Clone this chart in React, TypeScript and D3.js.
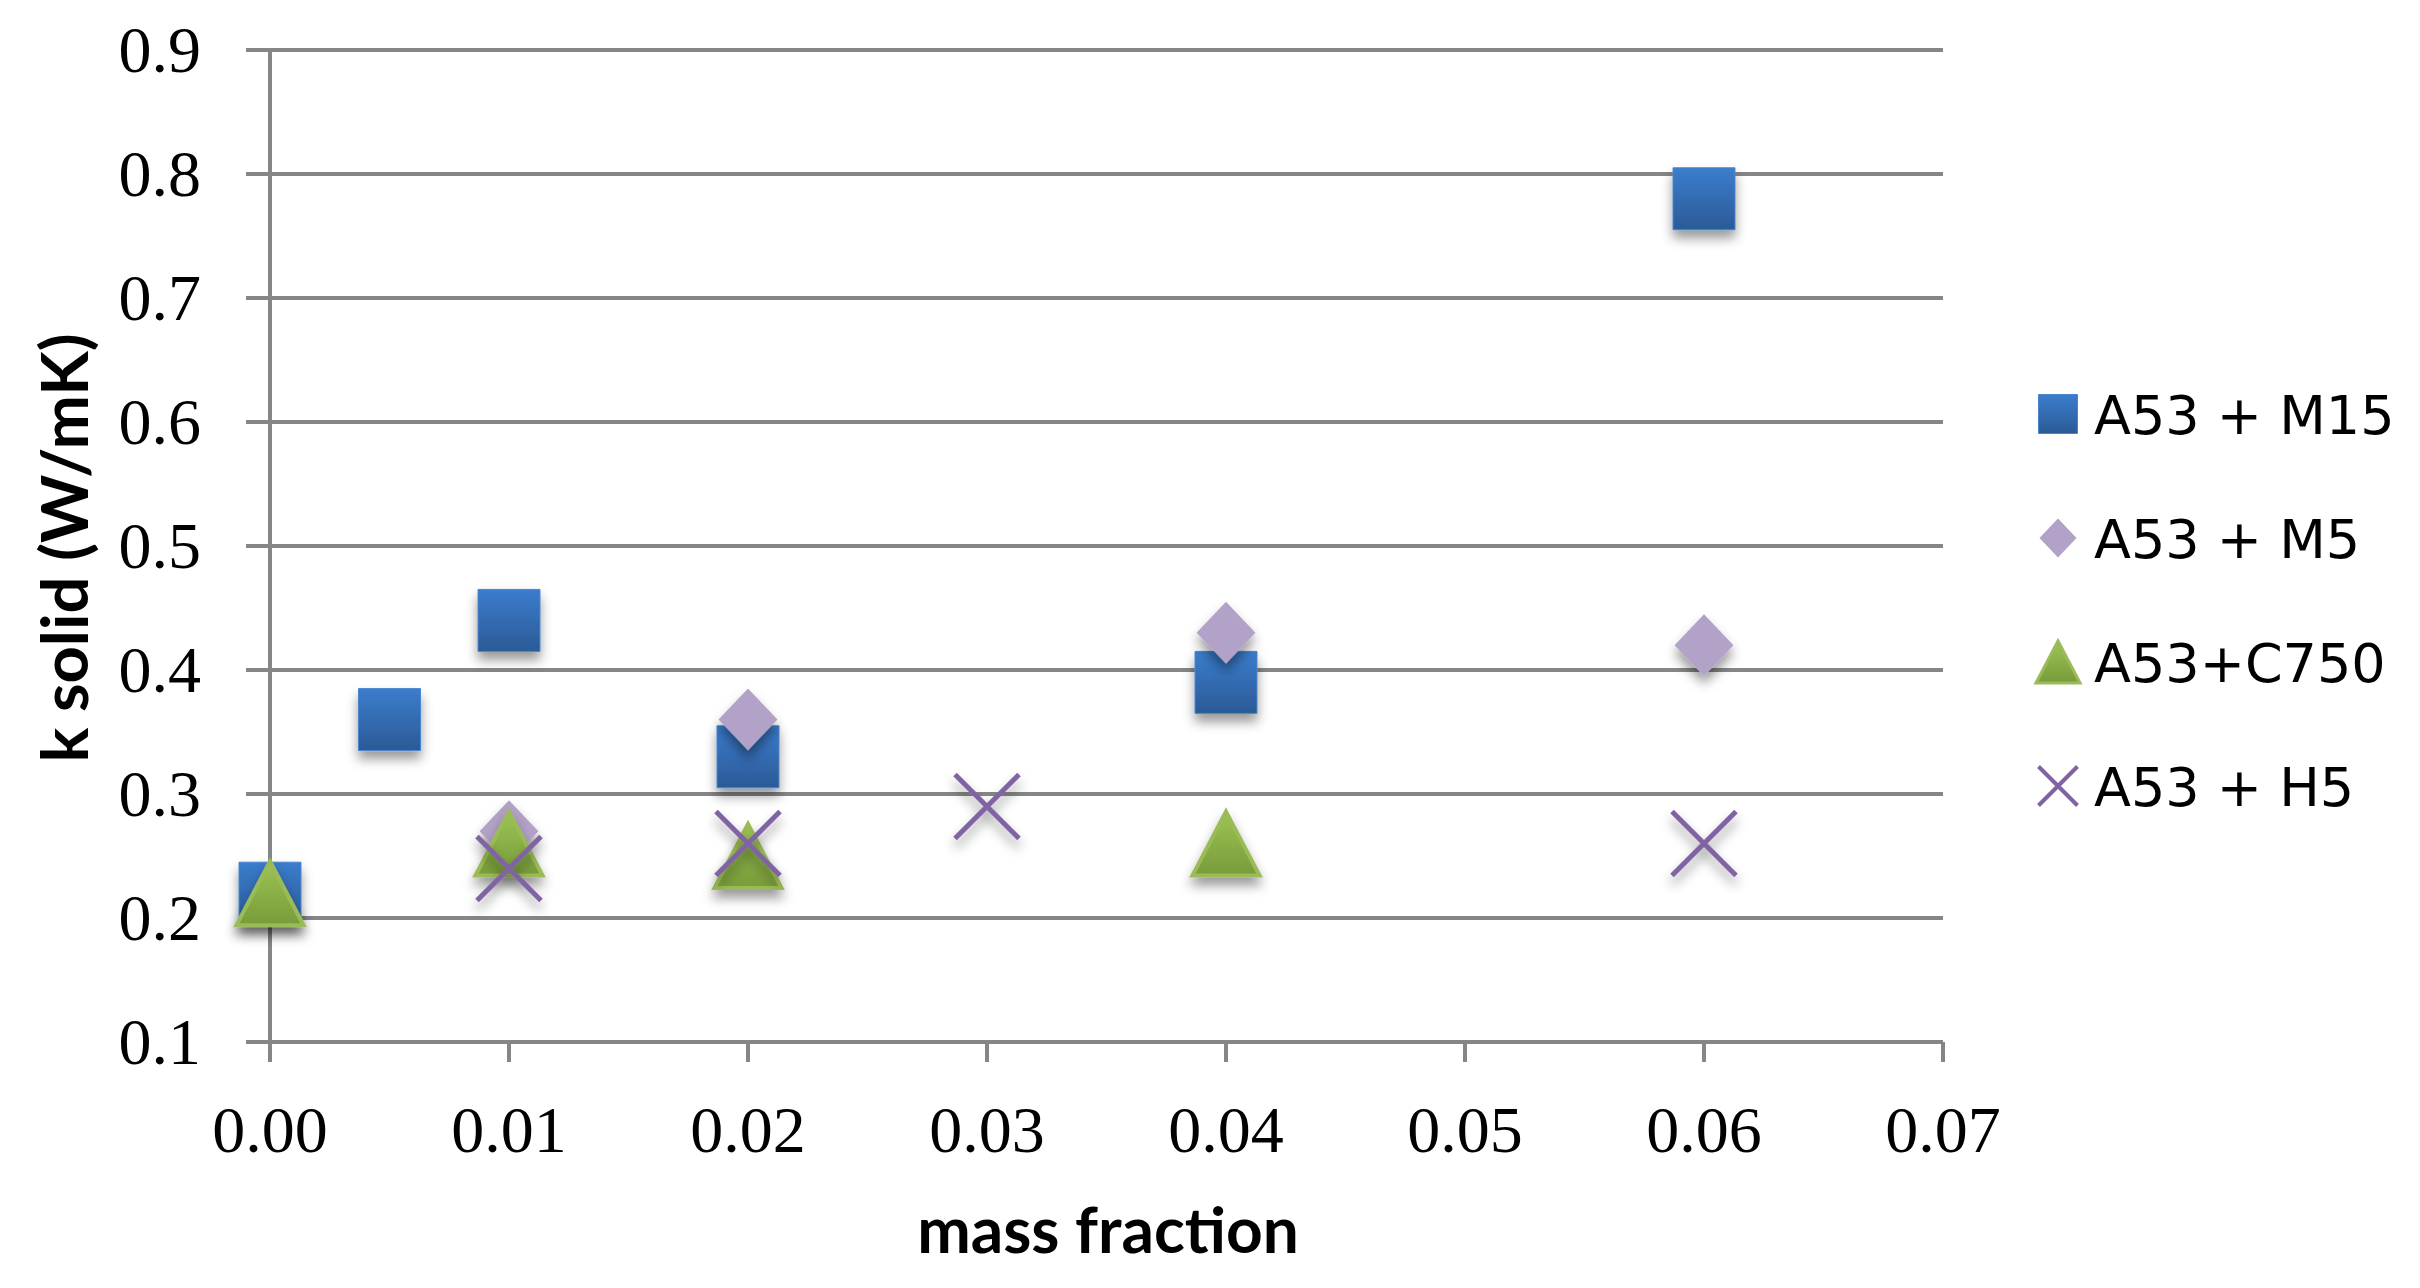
import { useEffect, useRef } from "react";
import * as d3 from "d3";

// x tick values (mass fraction) and y tick values (k solid)
const xTicks = [0, 0.01, 0.02, 0.03, 0.04, 0.05, 0.06, 0.07];
const yTicks = [0.1, 0.2, 0.3, 0.4, 0.5, 0.6, 0.7, 0.8, 0.9];

// series
const m15X = [0, 0.005, 0.01, 0.02, 0.04, 0.06];
const m15Y = [0.22, 0.36, 0.44, 0.33, 0.39, 0.78];
const m5X = [0.01, 0.02, 0.04, 0.06];
const m5Y = [0.27, 0.36, 0.43, 0.42];
const c750X = [0, 0.01, 0.02, 0.04];
const c750Y = [0.22, 0.26, 0.25, 0.26];
const h5X = [0.01, 0.02, 0.03, 0.06];
const h5Y = [0.24, 0.26, 0.29, 0.26];

const seriesNames = ["A53 + M15", "A53 + M5", "A53+C750", "A53 + H5"];
const seriesKinds = ["square", "diamond", "triangle", "cross"];

const GRID = "#868686";

function markerPath(kind: string, s: number) {
    const h = s / 2;
    const p = d3.path();
    if (kind === "square") {
        p.rect(-h, -h, s, s);
    } else if (kind === "diamond") {
        const w = h * 0.95;
        p.moveTo(0, -h);
        p.lineTo(w, 0);
        p.lineTo(0, h);
        p.lineTo(-w, 0);
        p.closePath();
    } else if (kind === "triangle") {
        const w = h * 1.05;
        p.moveTo(0, -h);
        p.lineTo(w, h);
        p.lineTo(-w, h);
        p.closePath();
    } else {
        p.moveTo(-h, -h);
        p.lineTo(h, h);
        p.moveTo(h, -h);
        p.lineTo(-h, h);
    }
    return p.toString();
}

function styleMarker(sel: any, kind: string) {
    if (kind === "square") {
        sel.attr("fill", "url(#gradBlue)").attr("stroke", "#4a86d0").attr("stroke-width", 1);
    } else if (kind === "diamond") {
        sel.attr("fill", "#b3a2c7");
    } else if (kind === "triangle") {
        sel.attr("fill", "url(#gradGreen)")
            .attr("stroke", "#9bbb59")
            .attr("stroke-width", 4)
            .attr("stroke-linejoin", "miter");
    } else {
        sel.attr("fill", "none").attr("stroke", "#8064a2").attr("stroke-width", 5);
    }
}

export default function App() {
    const svgRef = useRef<SVGSVGElement>(null);

    useEffect(() => {
        if (!svgRef.current) return;
        const width = 2420;
        const height = 1288;

        const svg = d3.select(svgRef.current);
        svg.selectAll("*").remove();
        svg.attr("width", width).attr("height", height);

        const defs = svg.append("defs");
        const gb = defs.append("linearGradient").attr("id", "gradBlue")
            .attr("x1", 0).attr("y1", 0).attr("x2", 0).attr("y2", 1);
        gb.append("stop").attr("offset", "0%").attr("stop-color", "#3b7dcd");
        gb.append("stop").attr("offset", "100%").attr("stop-color", "#2b5a96");
        const gg = defs.append("linearGradient").attr("id", "gradGreen")
            .attr("x1", 0).attr("y1", 0).attr("x2", 0).attr("y2", 1);
        gg.append("stop").attr("offset", "0%").attr("stop-color", "#9cc454");
        gg.append("stop").attr("offset", "100%").attr("stop-color", "#789b3a");
        const f = defs.append("filter").attr("id", "shadow")
            .attr("x", "-50%").attr("y", "-50%").attr("width", "200%").attr("height", "220%");
        f.append("feDropShadow")
            .attr("dx", 0).attr("dy", 8).attr("stdDeviation", 6)
            .attr("flood-color", "#000").attr("flood-opacity", 0.4);

        const x = d3.scaleLinear().domain([0, 0.07]).range([270, 1943]);
        const y = d3.scaleLinear().domain([0.1, 0.9]).range([1042, 50]);

        // gridlines (with small left ticks)
        svg.append("g")
            .selectAll("line")
            .data(yTicks)
            .enter()
            .append("line")
            .attr("x1", x(0) - 24)
            .attr("x2", x(0.07))
            .attr("y1", (d) => y(d))
            .attr("y2", (d) => y(d))
            .attr("stroke", GRID)
            .attr("stroke-width", 4);

        // y axis line
        svg.append("line")
            .attr("x1", x(0)).attr("x2", x(0))
            .attr("y1", y(0.9)).attr("y2", y(0.1) + 20)
            .attr("stroke", GRID).attr("stroke-width", 4);

        // x ticks
        svg.append("g")
            .selectAll("line")
            .data(xTicks)
            .enter()
            .append("line")
            .attr("x1", (d) => x(d))
            .attr("x2", (d) => x(d))
            .attr("y1", y(0.1))
            .attr("y2", y(0.1) + 20)
            .attr("stroke", GRID)
            .attr("stroke-width", 4);

        // tick labels
        svg.append("g")
            .selectAll("text")
            .data(yTicks)
            .enter()
            .append("text")
            .attr("x", 201)
            .attr("y", (d) => y(d) + 22)
            .attr("text-anchor", "end")
            .attr("font-family", "'Liberation Serif', 'Times New Roman', serif")
            .attr("font-size", 66)
            .attr("fill", "#000")
            .text((d) => d3.format(".1f")(d));

        svg.append("g")
            .selectAll("text")
            .data(xTicks)
            .enter()
            .append("text")
            .attr("x", (d) => x(d))
            .attr("y", 1152)
            .attr("text-anchor", "middle")
            .attr("font-family", "'Liberation Serif', 'Times New Roman', serif")
            .attr("font-size", 66)
            .attr("fill", "#000")
            .text((d) => d3.format(".2f")(d));

        // axis titles
        svg.append("text")
            .attr("x", 1108)
            .attr("y", 1253)
            .attr("text-anchor", "middle")
            .attr("font-family", "Lato, 'Open Sans', sans-serif")
            .attr("font-weight", 700)
            .attr("font-size", 64)
            .text("mass fraction");

        svg.append("text")
            .attr("transform", "translate(88,548) rotate(-90)")
            .attr("text-anchor", "middle")
            .attr("font-family", "Lato, 'Open Sans', sans-serif")
            .attr("font-weight", 700)
            .attr("font-size", 65)
            .text("k solid (W/mK)");

        // markers
        const series = [
            { xs: m15X, ys: m15Y, kind: seriesKinds[0] },
            { xs: m5X, ys: m5Y, kind: seriesKinds[1] },
            { xs: c750X, ys: c750Y, kind: seriesKinds[2] },
            { xs: h5X, ys: h5Y, kind: seriesKinds[3] },
        ];
        const sizes: Record<string, number> = { square: 62, diamond: 62, triangle: 64, cross: 64 };

        series.forEach((s) => {
            const g = svg.append("g").attr("filter", "url(#shadow)");
            s.xs.forEach((xv, i) => {
                const m = g.append("path")
                    .attr("transform", `translate(${x(xv)},${y(s.ys[i])})`)
                    .attr("d", markerPath(s.kind, sizes[s.kind]));
                styleMarker(m, s.kind);
            });
        });

        // legend
        const legend = svg.append("g").attr("transform", "translate(2058,414)");
        seriesNames.forEach((name, i) => {
            const row = legend.append("g").attr("transform", `translate(0,${i * 124})`);
            const m = row.append("path")
                .attr("d", markerPath(seriesKinds[i], seriesKinds[i] === "triangle" ? 42 : 39));
            styleMarker(m, seriesKinds[i]);
            if (seriesKinds[i] === "cross") m.attr("stroke-width", 4);
            if (seriesKinds[i] === "triangle") m.attr("stroke-width", 3);
            row.append("text")
                .attr("x", 36)
                .attr("y", 20)
                .attr("font-family", "'DejaVu Sans', sans-serif")
                .attr("font-size", 54)
                .attr("fill", "#000")
                .text(name);
        });
    }, []);

    return (
        <svg
            ref={svgRef}
            style={{ position: "absolute", left: 0, top: 0, background: "#fff" }}
        ></svg>
    );
}
